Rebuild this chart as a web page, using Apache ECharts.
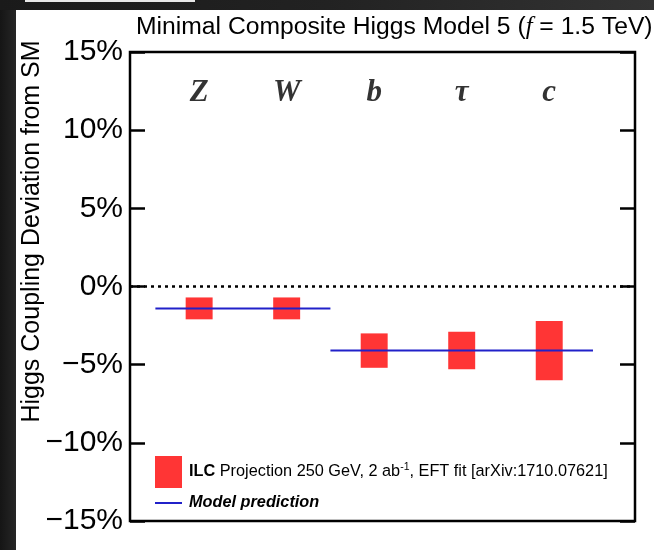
<!DOCTYPE html>
<html>
<head>
<meta charset="utf-8">
<script src="https://cdn.jsdelivr.net/npm/echarts@6/dist/echarts.min.js"></script>
<style>
  html, body { margin: 0; padding: 0; background: #ffffff; }
  #chart { width: 654px; height: 550px; }
</style>
</head>
<body>
<div id="chart"></div>
<script>
// Higgs couplings, expressed as % deviation from the Standard Model
const channels = ['Z', 'W', 'b', '\u03c4', 'c'];
// ILC 250 GeV, 2 ab^-1 EFT-fit precision (1 sigma, %)
const ilcPrecision = [0.7, 0.7, 1.1, 1.2, 1.9];
// Minimal Composite Higgs Model 5 prediction, f = 1.5 TeV (%)
const modelPrediction = [-1.4, -1.4, -4.1, -4.1, -4.1];
const yTicks = [-15, -10, -5, 0, 5, 10, 15];

const FONT = '"Liberation Sans", Arial, Helvetica, sans-serif';
const SERIF = '"Liberation Serif", "Times New Roman", serif';
const RED = '#ff3535';
const BLUE = '#2121c9';

// Uncertainty boxes are centred on the prediction, spanning +/- the ILC precision
const boxData = channels.map((c, i) => [i, modelPrediction[i], ilcPrecision[i]]);

// Consecutive channels that share a prediction are joined into one segment
const segments = [];
modelPrediction.forEach((v, i) => {
  const last = segments[segments.length - 1];
  if (last && last.value === v) last.end = i + 0.5;
  else segments.push({ start: i - 0.5, end: i + 0.5, value: v });
});

const pct = v => (v < 0 ? '\u2212' + (-v) : String(v)) + '%';

const chart = echarts.init(document.getElementById('chart'), null, { renderer: 'canvas' });

const series = [
  {
    name: 'ILC',
    type: 'custom',
    itemStyle: { color: RED },
    z: 2,
    data: boxData,
    renderItem: (params, api) => {
      const x = api.value(0), c = api.value(1), h = api.value(2);
      const p1 = api.coord([x - 0.154, c + h]);
      const p2 = api.coord([x + 0.154, c - h]);
      return {
        type: 'rect',
        shape: { x: p1[0], y: p1[1], width: p2[0] - p1[0], height: p2[1] - p1[1] },
        style: { fill: RED }
      };
    },
    markLine: {
      silent: true,
      symbol: 'none',
      label: { show: false },
      lineStyle: { color: '#000', width: 2.5, type: [3, 4] },
      data: [{ yAxis: 0 }]
    }
  }
];

segments.forEach(s => {
  series.push({
    name: 'Model prediction',
    type: 'line',
    symbol: 'none',
    z: 3,
    itemStyle: { color: BLUE },
    lineStyle: { color: BLUE, width: 2 },
    data: [[s.start, s.value], [s.end, s.value]]
  });
});

// Channel names along the top of the frame
series.push({
  type: 'scatter',
  symbolSize: 0,
  z: 4,
  silent: true,
  data: channels.map((c, i) => ({ value: [i, 12.4], name: c })),
  label: {
    show: true,
    position: 'inside',
    formatter: p => p.name,
    fontFamily: SERIF,
    fontStyle: 'italic',
    fontWeight: 'bold',
    fontSize: 31,
    color: '#000'
  }
});

const yAxisBase = {
  type: 'value',
  min: yTicks[0],
  max: yTicks[yTicks.length - 1],
  interval: 5,
  splitLine: { show: false },
  axisLine: { show: false, onZero: false },
  axisTick: { show: true, inside: true, length: 15, lineStyle: { color: '#000', width: 2.5 } }
};

chart.setOption({
  backgroundColor: '#ffffff',
  animation: false,
  title: {
    text: 'Minimal Composite Higgs Model 5 ({i|f} = 1.5 TeV)',
    left: 136,
    top: 15,
    padding: 0,
    textStyle: {
      fontFamily: FONT,
      fontWeight: 'normal',
      fontSize: 24.7,
      color: '#000',
      rich: {
        i: { fontFamily: SERIF, fontStyle: 'italic', fontSize: 24.7, color: '#000' }
      }
    }
  },
  grid: {
    left: 130, right: 19, top: 52, bottom: 29,
    show: true,
    borderColor: '#000',
    borderWidth: 2.5,
    backgroundColor: 'transparent'
  },
  xAxis: {
    type: 'value',
    min: -0.79,
    max: 4.98,
    show: false
  },
  yAxis: [
    Object.assign({}, yAxisBase, {
      position: 'left',
      name: 'Higgs Coupling Deviation from SM',
      nameLocation: 'middle',
      nameRotate: 90,
      nameGap: 85,
      nameMoveOverlap: false,
      nameTextStyle: {
        fontFamily: FONT, fontSize: 25, color: '#000',
        padding: [0, 0, 0, 110]
      },
      axisLabel: {
        show: true, margin: 7, formatter: pct,
        fontFamily: FONT, fontSize: 30, color: '#000'
      }
    }),
    Object.assign({}, yAxisBase, {
      position: 'right',
      axisLabel: { show: false }
    })
  ],
  legend: [
    {
      data: [{ name: 'ILC', icon: 'rect' }],
      left: 150,
      top: 451,
      itemWidth: 27,
      itemHeight: 32,
      formatter: () => '{b|ILC} Projection 250 GeV, 2 ab{sup|-1}, EFT fit [arXiv:1710.07621]',
      textStyle: {
        fontFamily: FONT, fontSize: 16.3, color: '#000',
        padding: [0, 0, 0, 2],
        rich: {
          b: { fontFamily: FONT, fontSize: 16.3, fontWeight: 'bold', color: '#000' },
          sup: { fontFamily: FONT, fontSize: 10.5, color: '#000', verticalAlign: 'top', padding: [0, 0, 10, 0] }
        }
      },
      selectedMode: false
    },
    {
      data: [{ name: 'Model prediction', icon: 'rect' }],
      left: 150,
      top: 490,
      itemWidth: 27,
      itemHeight: 2,
      textStyle: {
        fontFamily: FONT, fontSize: 16.3, fontStyle: 'italic', fontWeight: 'bold', color: '#000',
        padding: [0, 0, 0, 2]
      },
      selectedMode: false
    }
  ],
  graphic: [
    // dark frame of the surrounding slide
    {
      type: 'rect', left: 0, top: 0, z: -10, silent: true,
      shape: { width: 16, height: 550 },
      style: {
        fill: new echarts.graphic.LinearGradient(0, 0, 1, 0, [
          { offset: 0, color: '#151515' }, { offset: 1, color: '#262626' }
        ])
      }
    },
    {
      type: 'rect', left: 0, top: 0, z: -10, silent: true,
      shape: { width: 654, height: 10 },
      style: {
        fill: new echarts.graphic.LinearGradient(0, 0, 1, 0, [
          { offset: 0, color: '#1a1a1a' }, { offset: 0.5, color: '#222' }, { offset: 1, color: '#333' }
        ])
      }
    },
    {
      type: 'rect', left: 25, top: 0, z: -9, silent: true,
      shape: { width: 170, height: 2 },
      style: { fill: '#e8e8e8' }
    }
  ],
  series: series
});
</script>
</body>
</html>
